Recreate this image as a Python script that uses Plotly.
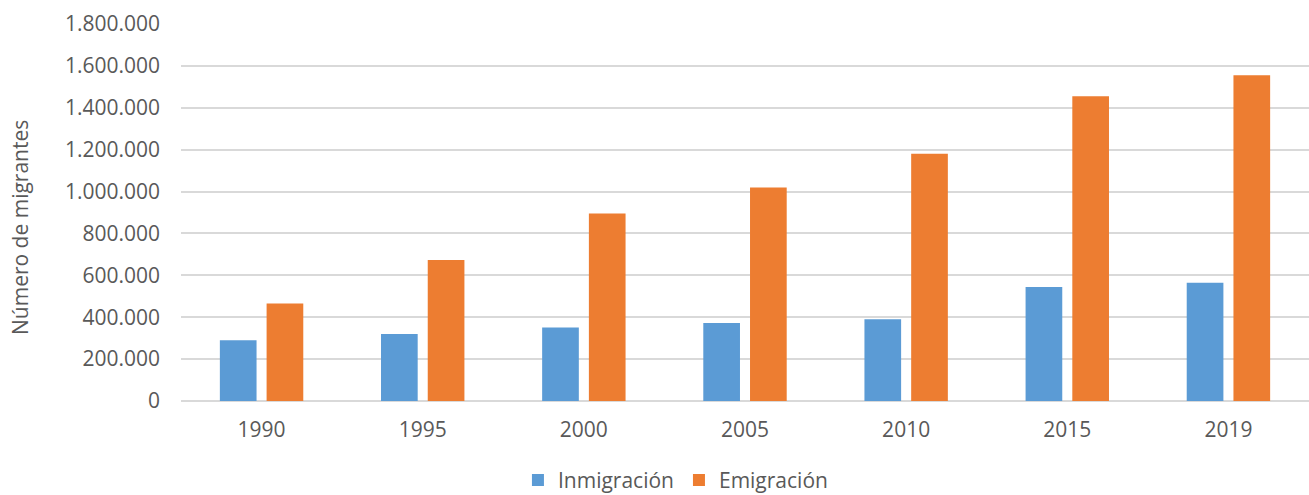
import plotly.graph_objects as go

# Migrant stock by year (number of people)
years = ["1990", "1995", "2000", "2005", "2010", "2015", "2019"]
inmigracion = [290000, 320000, 351000, 372000, 390000, 544000, 564000]
emigracion = [465000, 673000, 895000, 1019000, 1181000, 1455000, 1555000]

y_ticks = [0, 200000, 400000, 600000, 800000, 1000000, 1200000, 1400000, 1600000, 1800000]

BLUE = "#5B9BD5"
ORANGE = "#ED7D31"
TEXT = "#595959"
GRID = "#D9D9D9"
FONT = "Open Sans"

fig = go.Figure()
fig.add_trace(go.Bar(x=years, y=inmigracion, name="Inmigración",
                     marker=dict(color=BLUE, line=dict(width=0))))
fig.add_trace(go.Bar(x=years, y=emigracion, name="Emigración",
                     marker=dict(color=ORANGE, line=dict(width=0))))

fig.update_layout(
    width=1309, height=495,
    margin=dict(l=181, r=0, t=24, b=94, autoexpand=False),
    paper_bgcolor="white", plot_bgcolor="white",
    separators=",.",
    barmode="group", bargap=0.42, bargroupgap=0.215,
    font=dict(family=FONT, size=21, color=TEXT),
    showlegend=True,
    legend=dict(orientation="h", xref="container", x=0.516, xanchor="center",
                yref="paper", y=-0.156, yanchor="top",
                font=dict(family=FONT, size=21, color=TEXT),
                itemwidth=30, traceorder="normal"),
    annotations=[dict(text="Número de migrantes", textangle=-90,
                      xref="paper", yref="paper", x=-0.1427, y=0.459,
                      xanchor="center", yanchor="middle", showarrow=False,
                      font=dict(family=FONT, size=21, color=TEXT))],
)

fig.update_xaxes(showgrid=False, showline=False, zeroline=False, ticks="",
                 tickfont=dict(family=FONT, size=21, color=TEXT),
                 ticklabelstandoff=14)
fig.update_yaxes(range=[0, 1800000], tickvals=y_ticks, tickformat=",",
                 showgrid=True, gridcolor=GRID, gridwidth=1.5,
                 zeroline=True, zerolinecolor=GRID, zerolinewidth=1.5,
                 showline=False, ticks="",
                 tickfont=dict(family=FONT, size=21, color=TEXT),
                 ticklabelstandoff=20)

fig.write_html("out.html")
